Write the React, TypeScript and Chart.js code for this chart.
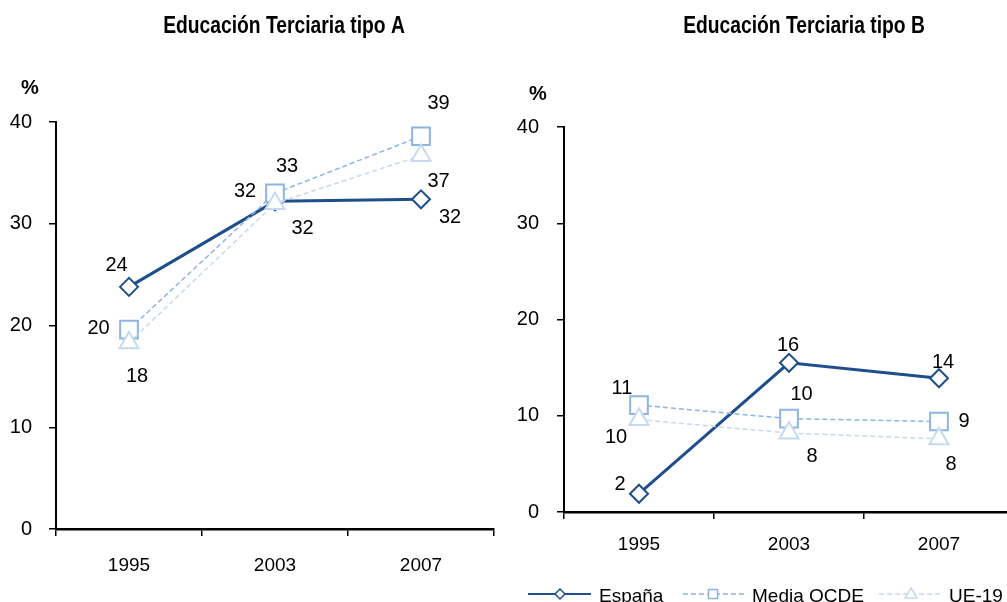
import React, { useEffect, useRef } from 'react';
import { Chart, registerables } from 'chart.js';

Chart.register(...registerables);

// ---------- data ----------
const categories = ['1995', '2003', '2007'];
const seriesNames = ['España', 'Media OCDE', 'UE-19'];
const titleA = 'Educación Terciaria tipo A';
const titleB = 'Educación Terciaria tipo B';
const yTickStep = 10;
const yMax = 40;

const espanaA = [23.8, 32.2, 32.4];
const ocdeA = [19.6, 33.0, 38.6];
const ue19A = [18.3, 32.0, 36.7];

const espanaB = [1.9, 15.5, 13.9];
const ocdeB = [11.1, 9.7, 9.4];
const ue19B = [9.6, 8.2, 7.6];

// ---------- styles ----------
const SANS = '"Liberation Sans", Arial, sans-serif';
const C_ES = '#1F4E8C';
const C_OC = '#8DB4E2';
const C_UE = '#C6D9F1';

// label offsets (dx, dy) from each point, per dataset
const labelOffsetsA = [
  [[-12.5, -23], [-30, -11], [29, 17]],
  [[-30.5, -2.5], [12, -28], [17.5, -34]],
  [[8, 32], [27.5, 24], [17.5, 24]],
];
const labelOffsetsB = [
  [[-19, -11], [-1, -18.5], [4, -17.5]],
  [[-17, -18], [12.5, -26], [25, -2]],
  [[-23, 16.5], [23, 22], [12, 24]],
];

function makeDatasets(es: number[], oc: number[], ue: number[]) {
  return [
    {
      label: seriesNames[0], data: es, borderColor: C_ES, borderWidth: 3,
      pointStyle: 'rectRot', pointRadius: 9, pointBorderWidth: 2,
      pointBackgroundColor: '#fff', pointBorderColor: C_ES, order: 2, clip: false,
    },
    {
      label: seriesNames[1], data: oc, borderColor: C_OC, borderWidth: 1.5, borderDash: [5, 3],
      pointStyle: 'rect', pointRadius: 12.5, pointBorderWidth: 2,
      pointBackgroundColor: '#fff', pointBorderColor: C_OC, order: 1, clip: false,
    },
    {
      label: seriesNames[2], data: ue, borderColor: C_UE, borderWidth: 1.5, borderDash: [5, 3],
      pointStyle: 'triangle', pointRadius: 11, pointBorderWidth: 2,
      pointBackgroundColor: '#fff', pointBorderColor: C_UE, order: 0, clip: false,
    },
  ];
}

function textPlugin(title: string, titleX: number, pctX: number, pctY: number, offsets: number[][][]) {
  return {
    id: 'texts',
    afterDraw(chart: any) {
      const ctx = chart.ctx;
      ctx.save();
      ctx.fillStyle = '#000';
      ctx.textAlign = 'center';
      ctx.textBaseline = 'alphabetic';
      // narrow bold title (Arial Narrow look: horizontally condensed)
      ctx.save();
      ctx.translate(titleX, 33);
      ctx.scale(0.82, 1);
      ctx.font = `bold 23.5px ${SANS}`;
      ctx.fillText(title, 0, 0);
      ctx.restore();
      ctx.font = `bold 20px ${SANS}`;
      ctx.fillText('%', pctX, pctY + 7);
      ctx.font = `20px ${SANS}`;
      chart.data.datasets.forEach((ds: any, di: number) => {
        const meta = chart.getDatasetMeta(di);
        meta.data.forEach((pt: any, i: number) => {
          const [dx, dy] = offsets[di][i];
          ctx.fillText(String(Math.round(ds.data[i])), pt.x + dx, pt.y + dy + 7);
        });
      });
      ctx.restore();
    },
  };
}

const legendPlugin = {
  id: 'customLegend',
  afterDraw(chart: any) {
    const ctx = chart.ctx;
    const ox = -500; // canvas offset
    const y = 594;
    ctx.save();
    // España
    ctx.strokeStyle = C_ES; ctx.lineWidth = 2; ctx.setLineDash([]);
    ctx.beginPath(); ctx.moveTo(528 + ox, y); ctx.lineTo(591 + ox, y); ctx.stroke();
    ctx.fillStyle = '#fff'; ctx.lineWidth = 1.5;
    ctx.beginPath();
    ctx.moveTo(560 + ox - 5, y); ctx.lineTo(560 + ox, y - 5); ctx.lineTo(560 + ox + 5, y); ctx.lineTo(560 + ox, y + 5); ctx.closePath();
    ctx.fill(); ctx.stroke();
    // OCDE
    ctx.strokeStyle = C_OC; ctx.lineWidth = 1.5; ctx.setLineDash([5, 3]);
    ctx.beginPath(); ctx.moveTo(683 + ox, y); ctx.lineTo(744 + ox, y); ctx.stroke();
    ctx.setLineDash([]);
    ctx.fillRect(713 + ox - 4.5, y - 4.5, 9, 9);
    ctx.strokeRect(713 + ox - 4.5, y - 4.5, 9, 9);
    // UE
    ctx.strokeStyle = C_UE; ctx.lineWidth = 1.5; ctx.setLineDash([5, 3]);
    ctx.beginPath(); ctx.moveTo(879 + ox, y); ctx.lineTo(942 + ox, y); ctx.stroke();
    ctx.setLineDash([]);
    ctx.beginPath();
    ctx.moveTo(911 + ox, y - 6); ctx.lineTo(911 + ox + 6, y + 4); ctx.lineTo(911 + ox - 6, y + 4); ctx.closePath();
    ctx.fill(); ctx.stroke();
    // text
    ctx.fillStyle = '#000';
    ctx.font = `19px ${SANS}`;
    ctx.textAlign = 'left'; ctx.textBaseline = 'alphabetic';
    ctx.fillText(seriesNames[0], 599 + ox, 602);
    ctx.fillText(seriesNames[1], 752 + ox, 602);
    ctx.fillText(seriesNames[2], 949 + ox, 602);
    ctx.restore();
  },
};

function makeOptions(padTop: number, padRight: number, yWidth: number, xHeight: number, yPad: number, xPad: number) {
  return {
    responsive: false,
    animation: false as const,
    events: [] as any[],
    layout: { autoPadding: false, padding: { top: padTop, right: padRight, bottom: 0, left: 0 } },
    plugins: { legend: { display: false }, tooltip: { enabled: false }, title: { display: false } },
    scales: {
      x: {
        type: 'category' as const,
        offset: true,
        grid: { offset: true, drawOnChartArea: false, drawTicks: true, tickLength: 7, color: '#000', lineWidth: 1.5 },
        border: { display: true, color: '#000', width: 2.5 },
        ticks: { color: '#000', font: { family: SANS, size: 19 }, padding: xPad, maxRotation: 0 },
        afterFit: (s: any) => { s.height = xHeight; },
      },
      y: {
        min: 0, max: yMax,
        grid: { drawOnChartArea: false, drawTicks: true, tickLength: 7, color: '#000', lineWidth: 1.5 },
        border: { display: true, color: '#000', width: 2 },
        ticks: { stepSize: yTickStep, color: '#000', font: { family: SANS, size: 20 }, padding: yPad },
        afterFit: (s: any) => { s.width = yWidth; },
      },
    },
  };
}

export default function App() {
  const refA = useRef<HTMLCanvasElement>(null);
  const refB = useRef<HTMLCanvasElement>(null);

  useEffect(() => {
    const chartA = new Chart(refA.current as HTMLCanvasElement, {
      type: 'line',
      data: { labels: categories, datasets: makeDatasets(espanaA, ocdeA, ue19A) as any },
      options: makeOptions(122, 6, 56, 73, 17, 18) as any,
      plugins: [textPlugin(titleA, 284, 30, 87, labelOffsetsA)],
    });
    const chartB = new Chart(refB.current as HTMLCanvasElement, {
      type: 'line',
      data: { labels: categories, datasets: makeDatasets(espanaB, ocdeB, ue19B) as any },
      options: makeOptions(127, 0, 64, 90, 18, 14) as any,
      plugins: [textPlugin(titleB, 304, 38, 92.5, labelOffsetsB), legendPlugin],
    });
    return () => { chartA.destroy(); chartB.destroy(); };
  }, []);

  return (
    <div style={{ position: 'absolute', left: 0, top: 0, width: 1007, height: 602, overflow: 'hidden', background: '#fff' }}>
      <canvas ref={refA} width={500} height={602} style={{ position: 'absolute', left: 0, top: 0, display: 'block' }} />
      <canvas ref={refB} width={514} height={602} style={{ position: 'absolute', left: 500, top: 0, display: 'block' }} />
    </div>
  );
}
